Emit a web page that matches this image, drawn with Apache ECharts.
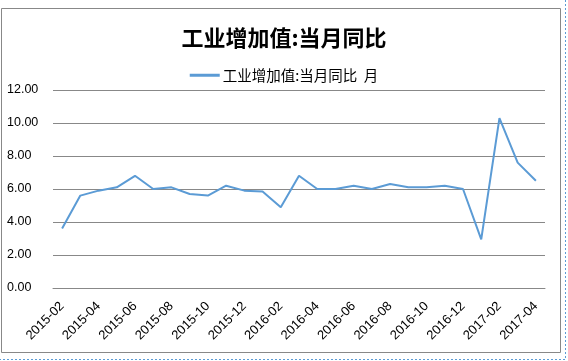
<!DOCTYPE html>
<html><head><meta charset="utf-8">
<script src="https://cdn.jsdelivr.net/npm/echarts@6/dist/echarts.min.js"></script>
<style>html,body{margin:0;padding:0;background:#fff}#c{width:568px;height:361px}</style>
</head><body><div id="c"></div>
<script>
const categories = ['2015-02','2015-03','2015-04','2015-05','2015-06','2015-07','2015-08','2015-09','2015-10','2015-11','2015-12',
 '2016-01','2016-02','2016-03','2016-04','2016-05','2016-06','2016-07','2016-08','2016-09','2016-10','2016-11','2016-12',
 '2017-01','2017-02','2017-03','2017-04'];
const values = [3.6,5.6,5.9,6.1,6.8,6.0,6.1,5.7,5.6,6.2,5.9,
 5.85,4.9,6.8,6.0,6.0,6.2,6.0,6.3,6.1,6.1,6.2,6.0,
 2.95,10.3,7.6,6.5];
const seriesName = '工业增加值:当月同比  月';
const titleText = '工业增加值:当月同比';
const chart = echarts.init(document.getElementById('c'));
chart.setOption({
  animation:false,
  backgroundColor:'#fff',
  title:{text:titleText,left:'center',top:22,itemGap:0,
    textStyle:{fontFamily:'Noto Sans CJK SC',fontSize:22,fontWeight:'bold',color:'#000'}},
  legend:{top:63,left:'center',itemWidth:30,itemHeight:3,itemGap:10,icon:'rect',
    textStyle:{fontFamily:'Noto Sans CJK SC',fontSize:14.5,color:'#000',padding:[0,0,0,-2]},data:[seriesName]},
  graphic:[
    {type:'rect',shape:{x:1.5,y:8.5,width:559,height:344},style:{fill:null,stroke:'#888',lineWidth:1},silent:true},
    {type:'polyline',shape:{points:[[565.5,0],[565.5,359.5],[0,359.5]]},style:{fill:null,stroke:'#5B9BD5',lineWidth:1,lineDash:[2,2]},silent:true}
  ],
  grid:{left:53,right:23,top:90,bottom:73},
  xAxis:{type:'category',data:categories,boundaryGap:true,
    axisLine:{show:true,lineStyle:{color:'#888'}},axisTick:{show:false},
    axisLabel:{interval:1,rotate:45,fontFamily:'Liberation Sans',fontSize:13,color:'#000',margin:16}},
  yAxis:{type:'value',min:0,max:12,interval:2,
    axisLine:{show:false},axisTick:{show:false},
    splitLine:{lineStyle:{color:'#888',width:1}},
    axisLabel:{formatter:v=>v.toFixed(2),align:'left',margin:46,fontFamily:'Liberation Sans',fontSize:12.5,color:'#000'}},
  series:[{name:seriesName,type:'line',data:values,symbol:'none',
    lineStyle:{color:'#5B9BD5',width:2},itemStyle:{color:'#5B9BD5'}}]
});
</script></body></html>
